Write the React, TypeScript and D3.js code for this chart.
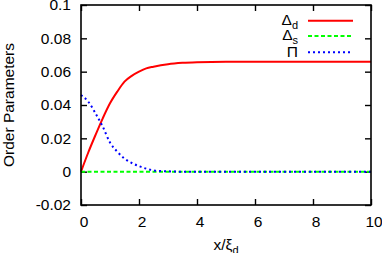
import React, { useEffect, useRef } from 'react';
import * as d3 from 'd3';

// values
const deltaDX = [0, 0.25, 0.5, 0.75, 1, 1.25, 1.5, 1.75, 2, 2.25, 2.5, 3, 3.5, 4, 5, 6, 8, 10];
const deltaDY = [0, 0.0115, 0.022, 0.032, 0.041, 0.048, 0.054, 0.0575, 0.06, 0.062, 0.063, 0.0645, 0.0653, 0.0657, 0.066, 0.066, 0.066, 0.066];

const deltaSX = [0, 10];
const deltaSY = [0, 0];

const piX = [0, 0.25, 0.5, 0.75, 1, 1.25, 1.5, 1.75, 2, 2.25, 2.5, 2.75, 3, 3.5, 4, 6, 8, 10];
const piY = [0.046, 0.042, 0.035, 0.027, 0.0175, 0.012, 0.0078, 0.0052, 0.0033, 0.0018, 0.0008, 0.0004, 0.0002, 0, 0, 0, 0, 0];

const xTicks = [0, 2, 4, 6, 8, 10];
const yTicks = [-0.02, 0, 0.02, 0.04, 0.06, 0.08, 0.1];

const App: React.FC = () => {
  const svgRef = useRef<SVGSVGElement>(null);

  useEffect(() => {
    if (!svgRef.current) return;
    const width = 382;
    const height = 253;
    const margin = { top: 5, right: 11, bottom: 48, left: 81 };
    const font = '"Liberation Sans", Arial, sans-serif';
    const fs = '15.5px';

    const svg = d3.select(svgRef.current);
    svg.selectAll('*').remove();

    const x = d3.scaleLinear().domain([0, 10]).range([margin.left, width - margin.right]);
    const y = d3.scaleLinear().domain([-0.02, 0.1]).range([height - margin.bottom, margin.top]);

    const styleAxis = (g: d3.Selection<SVGGElement, unknown, null, undefined>) => {
      g.select('.domain').remove();
      g.selectAll('line').attr('stroke', '#000').attr('stroke-width', 1.4);
      g.selectAll('text').style('font-family', font).style('font-size', fs).attr('fill', '#000');
    };

    const fmtY = (d: d3.NumberValue) => {
      const v = +d;
      if (Math.abs(v) < 1e-9) return '0';
      return String(+v.toFixed(2));
    };

    svg.append('g')
      .attr('transform', `translate(${margin.left},0)`)
      .call(d3.axisLeft(y).tickValues(yTicks).tickSize(-6).tickSizeOuter(0).tickPadding(10).tickFormat(fmtY))
      .call(styleAxis);

    svg.append('g')
      .attr('transform', `translate(${width - margin.right},0)`)
      .call(d3.axisRight(y).tickValues(yTicks).tickSize(-6).tickSizeOuter(0).tickFormat(() => ''))
      .call(styleAxis);

    const bx = svg.append('g')
      .attr('transform', `translate(0,${height - margin.bottom})`)
      .call(d3.axisBottom(x).tickValues(xTicks).tickSize(-6).tickSizeOuter(0).tickPadding(11).tickFormat(d3.format('d')))
      .call(styleAxis);
    bx.selectAll('text').attr('dx', 2.5);

    svg.append('g')
      .attr('transform', `translate(0,${margin.top})`)
      .call(d3.axisTop(x).tickValues(xTicks).tickSize(-6).tickSizeOuter(0).tickFormat(() => ''))
      .call(styleAxis);

    // curves
    const line = d3.line<[number, number]>()
      .x(d => x(d[0]))
      .y(d => y(d[1]))
      .curve(d3.curveMonotoneX);

    const series = [
      { xs: deltaDX, ys: deltaDY, color: '#ff0000', dash: null as string | null },
      { xs: deltaSX, ys: deltaSY, color: '#00ff00', dash: '4,2.5' },
      { xs: piX, ys: piY, color: '#0000ff', dash: '2,3' },
    ];

    series.forEach(s => {
      const pts = s.xs.map((v, i) => [v, s.ys[i]] as [number, number]);
      const p = svg.append('path')
        .attr('d', line(pts))
        .attr('fill', 'none')
        .attr('stroke', s.color)
        .attr('stroke-width', 2);
      if (s.dash) p.attr('stroke-dasharray', s.dash);
    });

    // frame
    svg.append('rect')
      .attr('x', margin.left)
      .attr('y', margin.top)
      .attr('width', width - margin.left - margin.right)
      .attr('height', height - margin.top - margin.bottom)
      .attr('fill', 'none')
      .attr('stroke', '#000')
      .attr('stroke-width', 1.6);

    // legend
    const legend = [
      { main: 'Δ', sub: 'd', color: '#ff0000', dash: null as string | null, ly: 20.7, base: 25 },
      { main: 'Δ', sub: 's', color: '#00ff00', dash: '4,2.5', ly: 36, base: 40 },
      { main: 'Π', sub: '', color: '#0000ff', dash: '2,3', ly: 52.3, base: 57 },
    ];
    legend.forEach(l => {
      const t = svg.append('text')
        .attr('x', 298)
        .attr('y', l.base)
        .attr('text-anchor', 'end')
        .style('font-family', font)
        .style('font-size', fs)
        .attr('fill', '#000');
      t.append('tspan').text(l.main);
      if (l.sub) t.append('tspan').attr('dy', 3.5).style('font-size', '11px').text(l.sub);
      const ln = svg.append('line')
        .attr('x1', 308).attr('x2', 353)
        .attr('y1', l.ly).attr('y2', l.ly)
        .attr('stroke', l.color)
        .attr('stroke-width', 2);
      if (l.dash) ln.attr('stroke-dasharray', l.dash);
    });

    // axis titles
    const xt = svg.append('text')
      .attr('x', (margin.left + width - margin.right) / 2)
      .attr('y', 250)
      .attr('text-anchor', 'middle')
      .style('font-family', font)
      .style('font-size', fs)
      .attr('fill', '#000');
    xt.append('tspan').text('x/ξ');
    xt.append('tspan').attr('dy', 4).style('font-size', '11px').text('d');

    svg.append('text')
      .attr('transform', `translate(14,${(margin.top + height - margin.bottom) / 2}) rotate(-90)`)
      .attr('text-anchor', 'middle')
      .style('font-family', font)
      .style('font-size', fs)
      .attr('fill', '#000')
      .text('Order Parameters');
  }, []);

  return (
    <svg ref={svgRef} width={382} height={253}
      style={{ position: 'absolute', left: 0, top: 0, background: '#fff' }} />
  );
};

export default App;
